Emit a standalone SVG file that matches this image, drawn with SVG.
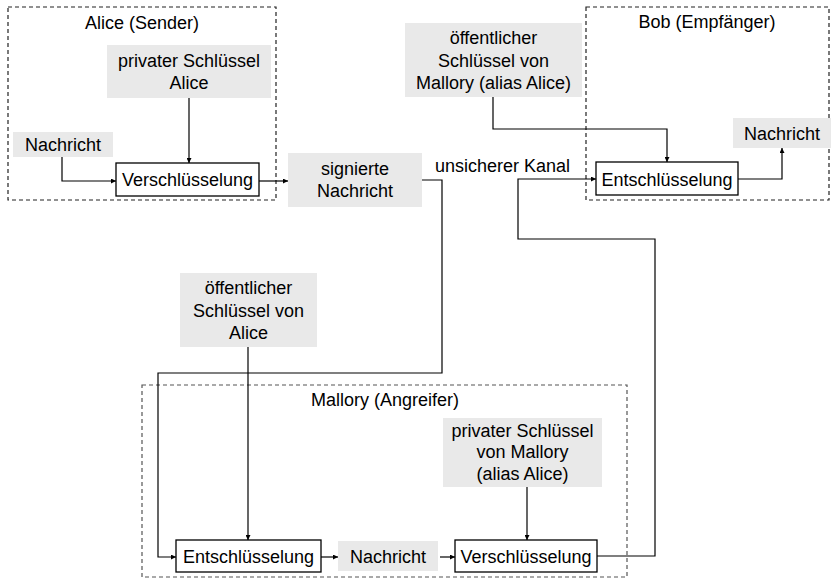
<svg xmlns="http://www.w3.org/2000/svg" width="833" height="579" viewBox="0 0 833 579">
  <defs>
    <marker id="arrow" viewBox="0 0 5 5" refX="5" refY="2.5" markerWidth="5" markerHeight="5" markerUnits="userSpaceOnUse" orient="auto">
      <path d="M0,0 L5,2.5 L0,5 z" fill="#000"/>
    </marker>
    <style>
      text { font-family: "Liberation Sans", Arial, sans-serif; font-size: 18px; fill: #000; }
      .c { text-anchor: middle; }
      .zone { fill: none; stroke: #222; stroke-width: 1.2; stroke-dasharray: 4 3; }
      .zone.m { stroke: #555; }
      .data { fill: #e9e9e9; stroke: none; }
      .proc { fill: #fff; stroke: #000; stroke-width: 1.3; }
      .wire { fill: none; stroke: #000; stroke-width: 1.2; }
      .wire.a { marker-end: url(#arrow); }
    </style>
  </defs>

  <!-- actor zones -->
  <g id="zone-alice">
    <rect class="zone" x="8" y="7" width="268" height="193"/>
    <text class="c" x="142" y="29">Alice (Sender)</text>
  </g>
  <g id="zone-bob">
    <rect class="zone" x="586" y="7" width="243" height="193"/>
    <text class="c" x="707" y="28">Bob (Empfänger)</text>
  </g>
  <g id="zone-mallory">
    <rect class="zone m" x="142" y="385" width="485" height="192"/>
    <text class="c" x="385" y="406">Mallory (Angreifer)</text>
  </g>

  <!-- connectors -->
  <g id="connectors">
    <polyline class="wire a" points="62,157 62,181 116,181"/>
    <polyline class="wire a" points="189,98 189,163"/>
    <polyline class="wire a" points="259,181 288,181"/>
    <polyline class="wire a" points="422,180 442,180 442,373 158,373 158,557 176,557"/>
    <polyline class="wire a" points="248,347 248,540"/>
    <polyline class="wire a" points="321,557 338,557"/>
    <polyline class="wire a" points="440,557 455,557"/>
    <polyline class="wire a" points="527,487 527,540"/>
    <polyline class="wire a" points="597,556 655,556 655,239 518,239 518,179 596,179"/>
    <polyline class="wire a" points="493,97 493,129 667,129 667,162"/>
    <polyline class="wire a" points="738,179 782,179 782,148"/>
  </g>

  <!-- Alice -->
  <g id="alice-message">
    <rect class="data" x="13" y="132" width="100" height="25"/>
    <text class="c" x="63" y="151">Nachricht</text>
  </g>
  <g id="alice-private-key">
    <rect class="data" x="107" y="45" width="164" height="53"/>
    <text class="c" x="189" y="66.5">privater Schlüssel</text>
    <text class="c" x="189" y="88.5">Alice</text>
  </g>
  <g id="alice-encrypt">
    <rect class="proc" x="116" y="163" width="143" height="33"/>
    <text class="c" x="187.5" y="186">Verschlüsselung</text>
  </g>
  <g id="signed-message">
    <rect class="data" x="288" y="153" width="134" height="54"/>
    <text class="c" x="355" y="175">signierte</text>
    <text class="c" x="355" y="197">Nachricht</text>
  </g>
  <g id="channel-label">
    <text x="435" y="172">unsicherer Kanal</text>
  </g>

  <!-- Bob -->
  <g id="mallory-public-key">
    <rect class="data" x="405" y="23" width="177" height="74"/>
    <text class="c" x="493.5" y="44">öffentlicher</text>
    <text class="c" x="493.5" y="66.5">Schlüssel von</text>
    <text class="c" x="493.5" y="89">Mallory (alias Alice)</text>
  </g>
  <g id="bob-decrypt">
    <rect class="proc" x="596" y="162" width="142" height="33"/>
    <text class="c" x="667" y="185.5">Entschlüsselung</text>
  </g>
  <g id="bob-message">
    <rect class="data" x="733" y="118" width="98" height="30"/>
    <text class="c" x="782" y="139.5">Nachricht</text>
  </g>

  <!-- Mallory -->
  <g id="alice-public-key">
    <rect class="data" x="180" y="273" width="137" height="74"/>
    <text class="c" x="248.5" y="294">öffentlicher</text>
    <text class="c" x="248.5" y="316.5">Schlüssel von</text>
    <text class="c" x="248.5" y="339">Alice</text>
  </g>
  <g id="mallory-decrypt">
    <rect class="proc" x="176" y="540" width="145" height="32"/>
    <text class="c" x="248.5" y="562.5">Entschlüsselung</text>
  </g>
  <g id="mallory-message">
    <rect class="data" x="338" y="541" width="100" height="30"/>
    <text class="c" x="388" y="562.5">Nachricht</text>
  </g>
  <g id="mallory-private-key">
    <rect class="data" x="443" y="418" width="159" height="69"/>
    <text class="c" x="522.5" y="436.5">privater Schlüssel</text>
    <text class="c" x="522.5" y="458">von Mallory</text>
    <text class="c" x="522.5" y="479.5">(alias Alice)</text>
  </g>
  <g id="mallory-encrypt">
    <rect class="proc" x="455" y="540" width="142" height="32"/>
    <text class="c" x="526" y="562.5">Verschlüsselung</text>
  </g>
</svg>
